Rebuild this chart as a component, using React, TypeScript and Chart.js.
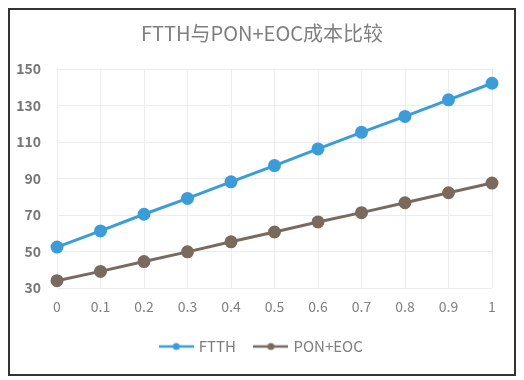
import React, { useEffect, useRef } from "react";
import { Chart, registerables } from "chart.js";

Chart.register(...registerables);

const titleText = "FTTH与PON+EOC成本比较";
const categories = ["0", "0.1", "0.2", "0.3", "0.4", "0.5", "0.6", "0.7", "0.8", "0.9", "1"];
const seriesNames = ["FTTH", "PON+EOC"];
const ftth = [52.4, 61.3, 70.4, 79.1, 88.2, 97.1, 106.2, 115.3, 124.0, 133.1, 142.2];
const ponEoc = [34.0, 39.1, 44.5, 49.8, 55.3, 60.7, 66.2, 71.3, 76.7, 82.2, 87.5];
const yMin = 30;
const yMax = 150;
const yStep = 20;

const BLUE = "#3b9cd9";
const BROWN = "#7a6a5e";
const FONT = "'Noto Sans CJK SC', 'Open Sans', sans-serif";

function makeLegendImage(color: string): HTMLCanvasElement {
  const c = document.createElement("canvas");
  c.width = 35;
  c.height = 10;
  const ctx = c.getContext("2d")!;
  ctx.strokeStyle = color;
  ctx.lineWidth = 2.5;
  ctx.beginPath();
  ctx.moveTo(0, 5);
  ctx.lineTo(35, 5);
  ctx.stroke();
  ctx.fillStyle = color;
  ctx.beginPath();
  ctx.arc(17.5, 5, 3.5, 0, Math.PI * 2);
  ctx.fill();
  return c;
}

const framePlugin = {
  id: "frame",
  afterDraw(chart: any) {
    const ctx = chart.ctx;
    ctx.save();
    ctx.strokeStyle = "#333333";
    ctx.lineWidth = 2;
    ctx.strokeRect(9, 9, 506, 366);
    ctx.restore();
  },
};

export default function App() {
  const ref = useRef<HTMLCanvasElement | null>(null);

  useEffect(() => {
    if (!ref.current) return;
    const imgs = [makeLegendImage(BLUE), makeLegendImage(BROWN)];
    const chart = new Chart(ref.current, {
      type: "line",
      data: {
        labels: categories,
        datasets: [
          {
            label: seriesNames[0],
            data: ftth,
            borderColor: BLUE,
            backgroundColor: BLUE,
            borderWidth: 3,
            pointRadius: 5,
            pointBackgroundColor: BLUE,
            pointBorderColor: BLUE,
            tension: 0,
          },
          {
            label: seriesNames[1],
            data: ponEoc,
            borderColor: BROWN,
            backgroundColor: BROWN,
            borderWidth: 3,
            pointRadius: 5,
            pointBackgroundColor: BROWN,
            pointBorderColor: BROWN,
            tension: 0,
          },
        ],
      },
      options: {
        animation: false,
        responsive: false,
        maintainAspectRatio: false,
        layout: { padding: { left: 16, right: 16, top: 0, bottom: 16 } },
        plugins: {
          title: {
            display: true,
            text: titleText,
            color: "#7f7f7f",
            font: { family: FONT, size: 20, weight: "normal" },
            padding: { top: 21, bottom: 24 },
          },
          legend: {
            display: true,
            position: "bottom",
            labels: {
              usePointStyle: true,
              pointStyleWidth: 30,
              padding: 20,
              color: "#7f7f7f",
              font: { family: FONT, size: 15 },
              generateLabels: (ch: any) => {
                const items = Chart.defaults.plugins.legend.labels.generateLabels(ch);
                return items.map((it: any, i: number) => ({ ...it, pointStyle: imgs[i] }));
              },
            },
          },
          tooltip: { enabled: false },
        },
        scales: {
          x: {
            type: "category",
            offset: false,
            grid: { color: "#ececec", lineWidth: 1, drawTicks: false },
            border: { display: false },
            ticks: {
              color: "#808080",
              padding: 10,
              font: { family: FONT, size: 14 },
              maxRotation: 0,
            },
            afterFit: (axis: any) => {
              axis.height = 31;
            },
          },
          y: {
            min: yMin,
            max: yMax,
            grid: { color: "#ececec", lineWidth: 1, drawTicks: false },
            border: { display: false },
            ticks: {
              stepSize: yStep,
              color: "#767676",
              padding: 16,
              font: { family: FONT, size: 14, weight: "bold" },
            },
            afterFit: (axis: any) => {
              axis.width = 41;
            },
          },
          yRight: {
            position: "right",
            min: yMin,
            max: yMax,
            grid: { display: false, drawTicks: false },
            border: { display: false },
            ticks: { display: false },
            afterFit: (axis: any) => {
              axis.width = 16;
            },
          },
        },
      },
      plugins: [framePlugin],
    } as any);
    return () => chart.destroy();
  }, []);

  return (
    <div style={{ position: "relative", width: 524, height: 380, margin: "-8px -8px 0 -8px", background: "#fff" }}>
      <canvas ref={ref} width={524} height={380} style={{ display: "block", width: 524, height: 380 }} />
    </div>
  );
}
